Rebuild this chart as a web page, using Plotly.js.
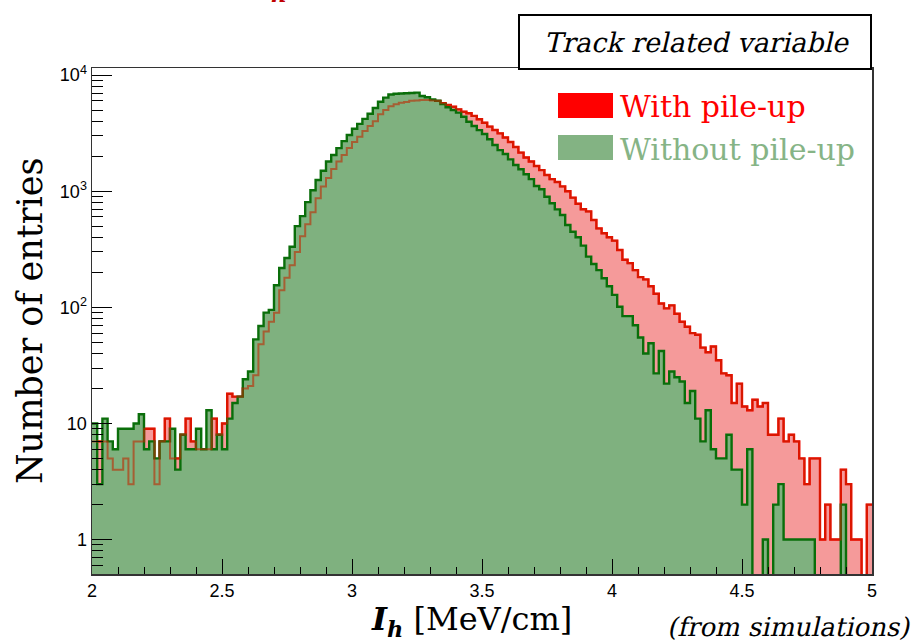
<!DOCTYPE html>
<html>
<head>
<meta charset="utf-8">
<script src="https://cdn.plot.ly/plotly-3.0.1.min.js"></script>
<style>html,body{margin:0;padding:0;background:#fff;}</style>
</head>
<body>
<div id="chart" style="width:918px;height:644px;"></div>
<script>
// Histogram binning
const xMin = 2.0, xMax = 5.0, binWidth = 0.02;

// Entries per bin, with pile-up (red)
const withPileUp = [
  7, 7, 7, 5, 4, 4, 5, 3, 7, 7,
  9, 9, 3, 7, 11, 5, 5, 8, 11, 7,
  6, 6, 6, 11, 8, 10, 18, 17, 17, 20,
  21, 26, 48, 62, 75, 90, 140, 180, 230, 300,
  410, 520, 660, 870, 1100, 1300, 1550, 1800, 2050, 2350,
  2650, 2950, 3300, 3650, 4000, 4600, 5000, 5400, 5600, 5780,
  5850, 6000, 6050, 6100, 6100, 6050, 5990, 5720, 5520, 5340,
  5070, 4840, 4690, 4450, 4160, 3890, 3600, 3370, 3150, 2900,
  2650, 2400, 2150, 1950, 1800, 1650, 1520, 1380, 1270, 1200,
  1100, 1000, 880, 780, 700, 670, 565, 478, 434, 401,
  375, 312, 257, 240, 209, 182, 174, 152, 131, 108,
  98, 104, 88, 75, 68, 60, 58, 45, 41, 46,
  35, 27, 26, 15, 22, 14, 13, 16, 14, 15,
  8, 8, 11, 7, 8, 7, 5, 3, 5, 5,
  1, 2, 1, 1, 4, 3, 1, 1, 0, 2
];

// Entries per bin, without pile-up (green)
const withoutPileUp = [
  10, 3, 11, 7, 6, 9, 9, 9, 10, 12,
  6, 7, 5, 7, 7, 9, 4, 8, 6, 6,
  9, 6, 13, 6, 8, 6, 11, 15, 17, 24,
  28, 53, 69, 90, 95, 155, 218, 266, 332, 500,
  610, 805, 1020, 1250, 1500, 1800, 2050, 2350, 2700, 3050,
  3450, 3800, 4200, 4650, 5200, 5900, 6400, 6800, 6900, 6950,
  6970, 7000, 7060, 6600, 6440, 6170, 6020, 5640, 5280, 5000,
  4750, 4380, 3960, 3640, 3360, 3110, 2800, 2500, 2260, 2090,
  1880, 1680, 1545, 1400, 1270, 1110, 1040, 897, 787, 698,
  624, 511, 448, 401, 340, 273, 236, 209, 178, 152,
  128, 101, 84, 84, 70, 55, 40, 49, 27, 42,
  22, 28, 25, 23, 15, 19, 11, 7, 13, 6,
  5, 5, 8, 4, 4, 2, 6, 0, 0, 1,
  0, 2, 3, 1, 1, 1, 1, 1, 1, 0,
  0, 0, 0, 0, 2, 0, 0, 0, 0, 0
];

const xTickVals = [2, 2.5, 3, 3.5, 4, 4.5, 5];
const xTickText = ["2", "2.5", "3", "3.5", "4", "4.5", "5"];
const yTickVals = [1, 10, 100, 1000, 10000];
const yTickText = ["1", "10", "10<sup>2</sup>", "10<sup>3</sup>", "10<sup>4</sup>"];
const seriesNames = ["With pile-up", "Without pile-up"];

// bin edges and step curves
const nBins = withPileUp.length;
const edges = [];
for (let i = 0; i <= nBins; i++) edges.push(+(xMin + i * binWidth).toFixed(4));
const FLOOR = 0.01; // empty bins drawn below the visible axis range
function stepY(arr) {
  const y = arr.map(v => (v > 0 ? v : FLOOR));
  y.push(y[y.length - 1]);
  return y;
}

const minorY = [];
[0.1, 1, 10, 100, 1000].forEach(d => { for (let k = 2; k <= 9; k++) minorY.push(k * d); });

const serif = "DejaVu Serif, Liberation Serif, serif";
const sans = "Liberation Sans, Arial, sans-serif";

const traces = [
  {
    x: edges, y: stepY(withPileUp), type: "scatter", mode: "lines",
    line: {shape: "hv", color: "#ff0000", width: 2.4},
    fill: "tozeroy", fillcolor: "#f59a9a", name: seriesNames[0], showlegend: false, hoverinfo: "skip"
  },
  {
    x: edges, y: stepY(withoutPileUp), type: "scatter", mode: "lines",
    line: {shape: "hv", color: "#0a6e0a", width: 2.4},
    fill: "tozeroy", fillcolor: "#7fb17f", name: seriesNames[1], showlegend: false, hoverinfo: "skip"
  },
  {
    x: edges, y: stepY(withPileUp), type: "scatter", mode: "lines",
    line: {shape: "hv", color: "rgba(190,40,0,0.6)", width: 2},
    showlegend: false, hoverinfo: "skip"
  }
];

// pixel -> paper helpers (plot area 92..872 x 68..574)
const L = 92, R = 872, T = 68, B = 574;
const px = p => (p - L) / (R - L);
const py = p => (B - p) / (B - T);

const layout = {
  width: 918, height: 644,
  margin: {l: L, r: 918 - R, t: T, b: 644 - B, pad: 0},
  paper_bgcolor: "#ffffff", plot_bgcolor: "#ffffff",
  showlegend: false,
  xaxis: {
    range: [xMin, xMax], tickmode: "array", tickvals: xTickVals, ticktext: xTickText,
    ticks: "inside", ticklen: 15, tickwidth: 1, tickcolor: "#000",
    showline: true, linecolor: "#333", linewidth: 1.5, mirror: true,
    showgrid: false, zeroline: false,
    tickfont: {family: sans, size: 18, color: "#000"},
    minor: {ticks: "inside", dtick: 0.1, tick0: 2, ticklen: 7, tickcolor: "#000", tickwidth: 1},
    layer: "above traces"
  },
  yaxis: {
    type: "log", range: [Math.log10(0.505), 4.061],
    tickmode: "array", tickvals: yTickVals, ticktext: yTickText,
    ticks: "inside", ticklen: 20, tickwidth: 1, tickcolor: "#000",
    showline: true, linecolor: "#333", linewidth: 1.5, mirror: true,
    showgrid: false, zeroline: false,
    tickfont: {family: sans, size: 18, color: "#000"},
    minor: {ticks: "inside", tickvals: minorY, ticklen: 11, tickcolor: "#000", tickwidth: 1},
    layer: "above traces"
  },
  shapes: [
    {type: "rect", xref: "paper", yref: "paper", x0: px(519), x1: px(871), y0: py(69), y1: py(15),
     line: {color: "#000", width: 2}, fillcolor: "#fff", layer: "above"},
    {type: "rect", xref: "paper", yref: "paper", x0: px(558), x1: px(613), y0: py(118), y1: py(93),
     line: {width: 0}, fillcolor: "#ff0000", layer: "above"},
    {type: "rect", xref: "paper", yref: "paper", x0: px(558), x1: px(613), y0: py(160), y1: py(135),
     line: {width: 0}, fillcolor: "#83b383", layer: "above"}
  ],
  annotations: [
    {text: "Track related variable", xref: "paper", yref: "paper", x: px(698), y: py(42),
     xanchor: "center", yanchor: "middle", showarrow: false, font: {family: serif, size: 27, color: "#000"}},
    {text: seriesNames[0], xref: "paper", yref: "paper", x: px(618), y: py(106),
     xanchor: "left", yanchor: "middle", showarrow: false, font: {family: serif, size: 30, color: "#ff0000"}},
    {text: seriesNames[1], xref: "paper", yref: "paper", x: px(618), y: py(149),
     xanchor: "left", yanchor: "middle", showarrow: false, font: {family: serif, size: 30, color: "#86b486"}},
    {text: "Number of entries", xref: "paper", yref: "paper", x: px(30), y: py(321), textangle: -90,
     xanchor: "center", yanchor: "middle", showarrow: false, font: {family: serif, size: 35, color: "#000"}},
    {text: "<b><i>I<sub>h</sub></i></b> [MeV/cm]", xref: "paper", yref: "paper", x: px(471), y: py(621),
     xanchor: "center", yanchor: "middle", showarrow: false, font: {family: serif, size: 32, color: "#000"}},
    {text: "(from simulations)", xref: "paper", yref: "paper", x: px(913), y: py(627),
     xanchor: "right", yanchor: "middle", showarrow: false, font: {family: serif, size: 26, color: "#000"}},
    {text: "<b><i>h</i></b>", xref: "paper", yref: "paper", x: px(279), y: py(9),
     xanchor: "center", yanchor: "bottom", showarrow: false, font: {family: serif, size: 22, color: "#c00000"}}
  ]
};

Plotly.newPlot("chart", traces, layout, {staticPlot: true, displayModeBar: false}).then(gd => {
  // slant the serif texts that are italic in the reference
  const anns = gd.querySelectorAll(".annotation");
  [0, 5].forEach(i => {
    const t = anns[i] && anns[i].querySelector("text");
    if (t) {
      t.style.transformBox = "fill-box";
      t.style.transformOrigin = "center";
      t.style.transform = "skewX(-13deg)";
    }
  });
});
</script>
</body>
</html>
